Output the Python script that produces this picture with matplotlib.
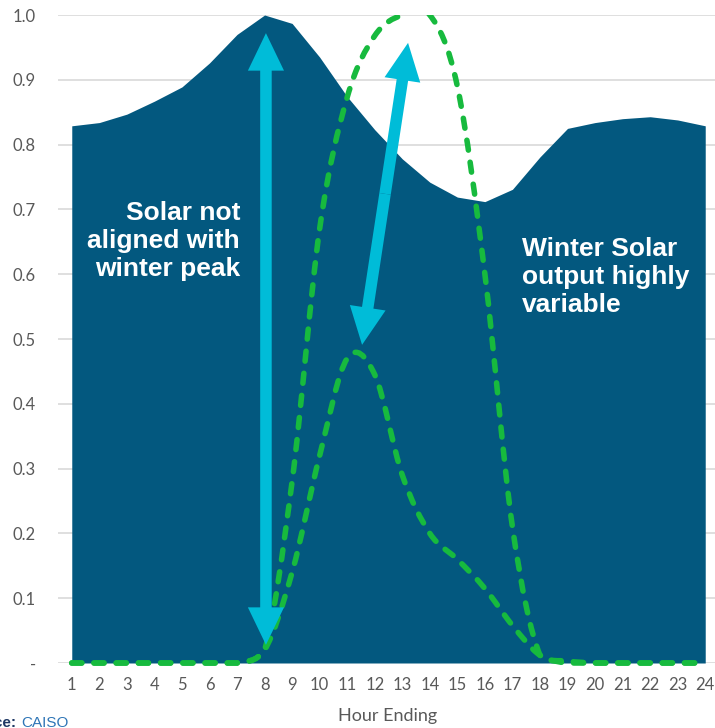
import numpy as np
import matplotlib
matplotlib.use("Agg")
import matplotlib.pyplot as plt
from matplotlib.path import Path
from matplotlib.patches import PathPatch, Rectangle, FancyArrowPatch

# hourly values (hour ending 1..24)
hours = np.arange(1, 25)
winter_load = [0.829, 0.834, 0.847, 0.867, 0.889, 0.926, 0.970, 1.000,
               0.987, 0.935, 0.874, 0.823, 0.778, 0.742, 0.719, 0.712,
               0.731, 0.781, 0.825, 0.834, 0.840, 0.843, 0.838, 0.829]
solar_high = [0, 0, 0, 0, 0, 0, 0, 0.02, 0.28, 0.67, 0.873, 0.968,
              1.0, 1.0, 0.89, 0.60, 0.21, 0.012, 0.003, 0, 0, 0, 0, 0]
solar_low = [0, 0, 0, 0, 0, 0, 0, 0.02, 0.14, 0.32, 0.47, 0.445,
             0.29, 0.20, 0.16, 0.115, 0.058, 0.012, 0, 0, 0, 0, 0, 0]

yticks = [0, 0.1, 0.2, 0.3, 0.4, 0.5, 0.6, 0.7, 0.8, 0.9, 1.0]
ytick_labels = ["-", "0.1", "0.2", "0.3", "0.4", "0.5", "0.6", "0.7", "0.8", "0.9", "1.0"]

# annotation arrows: (tail tip, head tip) in data coords
arrows = [((8.05, 0.972), (8.05, 0.028)),
          ((13.21, 0.957), (11.54, 0.491))]

BLUE = "#03587F"
GREEN = "#17BA3E"
CYAN = "#00BCD8"
GRAY = "#595959"


def smooth_path(x, y):
    """Excel-like smoothed line: Catmull-Rom segments as cubic Beziers."""
    p = np.column_stack([x, y]).astype(float)
    n = len(p)
    verts = [p[0]]
    codes = [Path.MOVETO]
    for i in range(n - 1):
        p0 = p[i - 1] if i > 0 else p[i]
        p3 = p[i + 2] if i + 2 < n else p[i + 1]
        c1 = p[i] + (p[i + 1] - p0) / 6.0
        c2 = p[i + 1] - (p3 - p[i]) / 6.0
        # keep the curve from dipping under zero
        c1[1] = max(c1[1], 0)
        c2[1] = max(c2[1], 0)
        verts += [c1, c2, p[i + 1]]
        codes += [Path.CURVE4] * 3
    return Path(verts, codes)


fig = plt.figure(figsize=(7.15, 7.28), dpi=100)
ax = fig.add_axes([58 / 715, 65 / 728, 661 / 715, 648 / 728])

ax.fill_between(hours, 0, winter_load, color=BLUE, lw=0, zorder=2)

clip = Rectangle((0.5, -0.05), 24, 1.05, transform=ax.transData)
for series in (solar_high, solar_low):
    pp = PathPatch(smooth_path(hours, series), fill=False, edgecolor=GREEN,
                   lw=4.0, linestyle=(0, (1.8, 2.2)), capstyle="round",
                   transform=ax.transData, zorder=4)
    ax.add_patch(pp)
    pp.set_clip_path(clip)

for a, b in arrows:
    mid = ((a[0] + b[0]) / 2, (a[1] + b[1]) / 2)
    for tip in (a, b):
        ar = FancyArrowPatch(mid, tip, arrowstyle="simple,head_length=27,head_width=26,tail_width=8.3",
                             mutation_scale=1, color=CYAN, lw=0, shrinkA=0, shrinkB=0, zorder=5)
        ax.add_patch(ar)

ax.text(7.11, 0.651, "Solar not\naligned with\nwinter peak", color="white",
        fontsize=19, fontweight="bold", family="Liberation Sans",
        ha="right", va="center", multialignment="right", linespacing=1.2, zorder=6)
ax.text(17.36, 0.596, "Winter Solar\noutput highly\nvariable", color="white",
        fontsize=19, fontweight="bold", family="Liberation Sans",
        ha="left", va="center", multialignment="left", linespacing=1.2, zorder=6)

ax.set_xlim(0.5, 24.5)
ax.set_ylim(0, 1.0)
ax.set_xticks(hours)
ax.set_xticklabels([str(h) for h in hours])
ax.set_yticks(yticks)
ax.set_yticklabels(ytick_labels)
ax.grid(axis="y", color="#D9D9D9", lw=1.2, zorder=0)
ax.set_axisbelow(True)
for s in ax.spines.values():
    s.set_visible(False)
ax.tick_params(axis="both", length=0, colors=GRAY, labelsize=12)
ax.tick_params(axis="y", pad=16)
ax.tick_params(axis="x", pad=10)
for lab in ax.get_xticklabels() + ax.get_yticklabels():
    lab.set_family("Lato")

fig.text(388 / 715, 1 - 716 / 728, "Hour Ending", color=GRAY, fontsize=13,
         family="Lato", ha="center", va="center")
fig.text(17 / 715, 1 - 716 / 728, "Source:", color="#1F3864", fontsize=11,
         fontweight="bold", family="Liberation Sans", ha="right", va="top")
fig.text(21 / 715, 1 - 716 / 728, "CAISO", color="#2E75B6", fontsize=11,
         family="Liberation Sans", ha="left", va="top")

fig.savefig("out.png", dpi=100)
